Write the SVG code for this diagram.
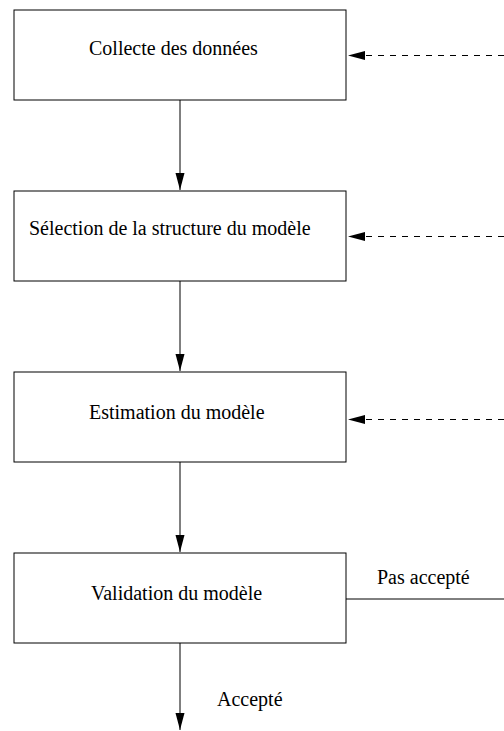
<svg xmlns="http://www.w3.org/2000/svg" width="504" height="731" viewBox="0 0 504 731">
<style>
.box{fill:#fff;stroke:#000;stroke-width:1}
.lbl{font-family:"Liberation Serif","Times New Roman",serif;font-size:20px;fill:#000}
.ln{fill:none;stroke:#000;stroke-width:1}
.dash{fill:none;stroke:#000;stroke-width:1;stroke-dasharray:6,6}
</style>
<defs>
<marker id="ah" markerUnits="userSpaceOnUse" markerWidth="18" markerHeight="10" refX="17" refY="5" orient="auto" viewBox="0 0 18 10">
<path d="M0,0.5 L17,5 L0,9.5 Z" fill="#000"/>
</marker>
</defs>
<g id="n1"><rect class="box" x="14" y="10" width="332" height="90"/><text class="lbl" x="89" y="55">Collecte des données</text></g>
<g id="n2"><rect class="box" x="14" y="191" width="332" height="90"/><text class="lbl" x="29" y="235">Sélection de la structure du modèle</text></g>
<g id="n3"><rect class="box" x="14" y="372" width="332" height="90"/><text class="lbl" x="89" y="419">Estimation du modèle</text></g>
<g id="n4"><rect class="box" x="14" y="553" width="332" height="90"/><text class="lbl" x="91" y="600">Validation du modèle</text></g>
<g id="connectors">
<line class="ln" x1="180" y1="100" x2="180" y2="190" marker-end="url(#ah)"/>
<line class="ln" x1="180" y1="281" x2="180" y2="371" marker-end="url(#ah)"/>
<line class="ln" x1="180" y1="462" x2="180" y2="552" marker-end="url(#ah)"/>
<line class="ln" x1="180" y1="643" x2="180" y2="730" marker-end="url(#ah)"/>
<line class="dash" x1="504" y1="55.5" x2="348" y2="55.5" marker-end="url(#ah)"/>
<line class="dash" x1="504" y1="236.5" x2="348" y2="236.5" marker-end="url(#ah)"/>
<line class="dash" x1="504" y1="419.5" x2="348" y2="419.5" marker-end="url(#ah)"/>
<line class="ln" x1="346" y1="599" x2="504" y2="599"/>
<text class="lbl" x="377" y="584">Pas accepté</text>
<text class="lbl" x="217" y="706">Accepté</text>
</g>
</svg>
